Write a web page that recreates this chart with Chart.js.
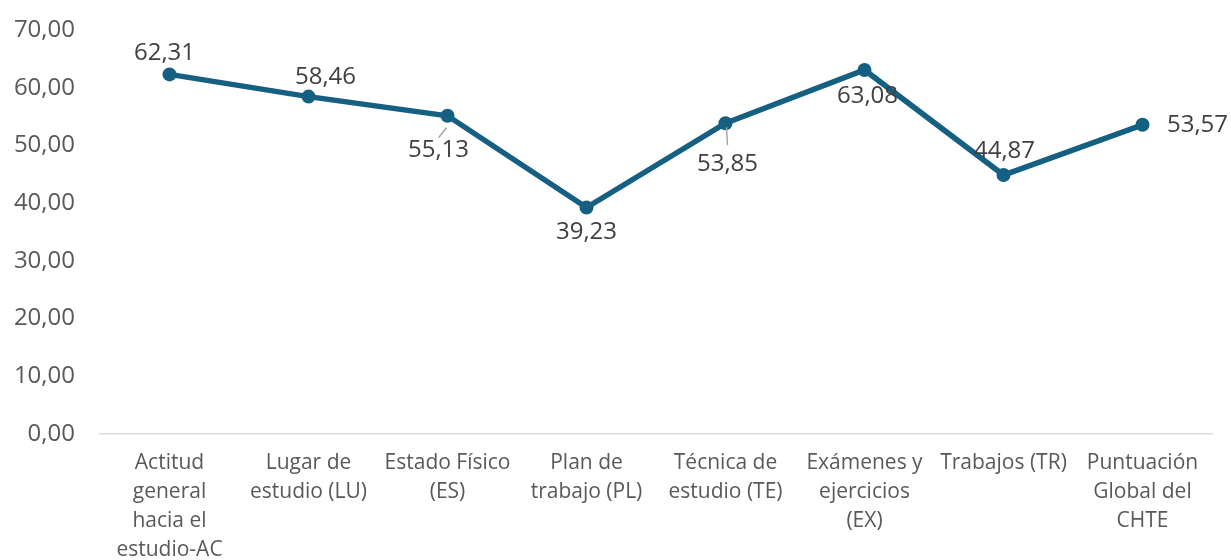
<!DOCTYPE html>
<html>
<head>
<meta charset="utf-8">
<script src="https://cdn.jsdelivr.net/npm/chart.js@4.4.1/dist/chart.umd.min.js"></script>
<style>
  html, body { margin: 0; padding: 0; background: #fff; }
  #wrap { width: 1231px; height: 560px; position: relative; }
</style>
</head>
<body>
<div id="wrap"><canvas id="chtChart"></canvas></div>
<script>
const categories = [
  ['Actitud', 'general', 'hacia el', 'estudio-AC'],
  ['Lugar de', 'estudio (LU)'],
  ['Estado Físico', '(ES)'],
  ['Plan de', 'trabajo (PL)'],
  ['Técnica de', 'estudio (TE)'],
  ['Exámenes y', 'ejercicios', '(EX)'],
  ['Trabajos (TR)'],
  ['Puntuación', 'Global del', 'CHTE']
];
const scores = [62.31, 58.46, 55.13, 39.23, 53.85, 63.08, 44.87, 53.57];
const yTicks = [0, 10, 20, 30, 40, 50, 60, 70];

// desplazamiento de cada etiqueta respecto a su punto (px)
const labelOffsets = [[-5, -21], [17, -19], [-9, 34], [0, 25], [2, 41], [3, 26], [1, -24], [55, 0]];
// lineas guia para las etiquetas alejadas
const leaderLines = { 2: [[-1, 12], [-9, 22]], 4: [[1, 4], [2, 22]] };

const fontFamily = '"Open Sans", sans-serif';
const fmt = v => v.toFixed(2).replace('.', ',');

const valueLabels = {
  id: 'valueLabels',
  afterDatasetsDraw(chart) {
    const ctx = chart.ctx;
    const meta = chart.getDatasetMeta(0);
    ctx.save();
    meta.data.forEach((pt, i) => {
      const lead = leaderLines[i];
      if (lead) {
        ctx.strokeStyle = '#a6a6a6';
        ctx.lineWidth = 1.5;
        ctx.beginPath();
        ctx.moveTo(pt.x + lead[0][0], pt.y + lead[0][1]);
        ctx.lineTo(pt.x + lead[1][0], pt.y + lead[1][1]);
        ctx.stroke();
      }
      const off = labelOffsets[i];
      ctx.font = '24px ' + fontFamily;
      ctx.fillStyle = '#404040';
      ctx.textAlign = 'center';
      ctx.textBaseline = 'middle';
      ctx.fillText(fmt(scores[i]), pt.x + off[0], pt.y + off[1]);
    });
    ctx.restore();
  }
};

new Chart(document.getElementById('chtChart'), {
  type: 'line',
  data: {
    labels: categories,
    datasets: [{
      data: scores,
      borderColor: '#156082',
      backgroundColor: '#156082',
      borderWidth: 5.5,
      pointRadius: 7,
      pointBorderWidth: 0,
      tension: 0
    }]
  },
  options: {
    responsive: true,
    maintainAspectRatio: false,
    animation: false,
    layout: { padding: { top: 30, right: 19, left: 0, bottom: 0 } },
    plugins: {
      legend: { display: false },
      tooltip: { enabled: false }
    },
    scales: {
      x: {
        offset: true,
        grid: { display: false, drawTicks: false },
        border: { display: true, color: '#d9d9d9', width: 1.5 },
        ticks: {
          autoSkip: false,
          maxRotation: 0,
          padding: 15,
          color: '#595959',
          font: { family: fontFamily, size: 21, lineHeight: '29px' }
        },
        afterFit(scale) { scale.height = 126; }
      },
      y: {
        min: 0,
        max: 70,
        afterBuildTicks(scale) { scale.ticks = yTicks.map(v => ({ value: v })); },
        grid: { display: false, drawTicks: false },
        border: { display: false },
        ticks: {
          padding: 25,
          color: '#595959',
          font: { family: fontFamily, size: 24 },
          callback: v => fmt(v)
        },
        afterFit(scale) {
          scale.width = 100;
          scale.paddingTop = 0;
          scale.paddingBottom = 0;
        }
      }
    }
  },
  plugins: [valueLabels]
});
</script>
</body>
</html>
